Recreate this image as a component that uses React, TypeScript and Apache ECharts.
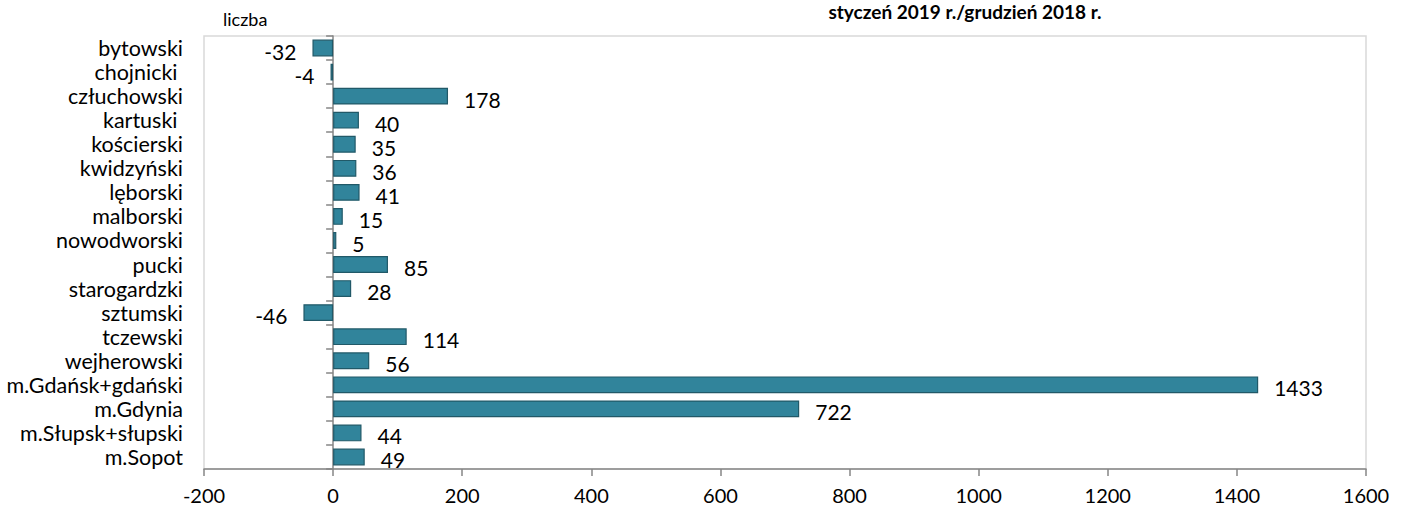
import React, { useEffect, useRef } from "react";
import * as echarts from "echarts";

const categories = [
  "bytowski",
  "chojnicki ",
  "człuchowski",
  "kartuski ",
  "kościerski",
  "kwidzyński",
  "lęborski",
  "malborski",
  "nowodworski",
  "pucki",
  "starogardzki",
  "sztumski",
  "tczewski",
  "wejherowski",
  "m.Gdańsk+gdański",
  "m.Gdynia",
  "m.Słupsk+słupski",
  "m.Sopot",
];
const values = [-32, -4, 178, 40, 35, 36, 41, 15, 5, 85, 28, -46, 114, 56, 1433, 722, 44, 49];
const xTicks = [-200, 0, 200, 400, 600, 800, 1000, 1200, 1400, 1600];
const title = "styczeń 2019 r./grudzień 2018 r.";
const unitLabel = "liczba";

const FONT = "Lato";

export default function App() {
  const ref = useRef<HTMLDivElement>(null);
  useEffect(() => {
    if (!ref.current) return;
    const chart = echarts.init(ref.current, undefined, { renderer: "svg" });
    chart.setOption({
      animation: false,
      backgroundColor: "#ffffff",
      textStyle: { fontFamily: FONT },
      title: {
        text: title,
        left: 960,
        top: -3,
        textAlign: "center",
        textStyle: { fontFamily: FONT, fontSize: 19, fontWeight: "bold", color: "#000" },
      },
      graphic: [
        {
          type: "text",
          left: 223,
          top: 10,
          style: { text: unitLabel, fontFamily: FONT, fontSize: 18, fill: "#000" },
        },
      ],
      grid: {
        left: 204,
        right: 40,
        top: 36,
        bottom: 41,
        show: true,
        borderColor: "#d9d9d9",
        borderWidth: 1.5,
        containLabel: false,
      },
      xAxis: {
        type: "value",
        min: xTicks[0],
        max: xTicks[xTicks.length - 1],
        interval: 200,
        splitLine: { show: false },
        axisLine: { show: true, onZero: false, lineStyle: { color: "#868686", width: 1.5 } },
        axisTick: { show: true, length: 7, lineStyle: { color: "#868686", width: 1.5 } },
        axisLabel: {
          fontFamily: FONT,
          fontSize: 20,
          color: "#000",
          margin: 16,
          formatter: (v: number) => String(v),
        },
      },
      yAxis: [
        {
          type: "category",
          inverse: true,
          data: categories,
          position: "left",
          axisLine: { show: false, onZero: false },
          axisTick: { show: false },
          axisLabel: {
            interval: 0,
            fontFamily: FONT,
            fontSize: 21.5,
            lineHeight: 22,
            color: "#000",
            margin: 21,
          },
        },
        {
          type: "category",
          inverse: true,
          data: categories,
          position: "left",
          axisLine: { show: true, onZero: true, lineStyle: { color: "#868686", width: 1.5 } },
          axisTick: {
            show: true,
            interval: 0,
            length: 7,
            lineStyle: { color: "#868686", width: 1.5 },
          },
          axisLabel: { show: false, interval: 0 },
        },
      ],
      series: [
        {
          type: "bar",
          yAxisIndex: 0,
          data: values.map((v) => ({
            value: v,
            label: { position: v < 0 ? "left" : "right" },
          })),
          barWidth: "70%",
          itemStyle: { color: "#31849b", borderColor: "#215968", borderWidth: 1.2 },
          label: {
            show: true,
            distance: 16,
            fontFamily: FONT,
            fontSize: 21,
            lineHeight: 20,
            color: "#000",
            offset: [0, 3],
            formatter: (p: any) => String(p.value),
          },
        },
      ],
    });
    return () => chart.dispose();
  }, []);
  return (
    <div
      ref={ref}
      style={{ position: "fixed", left: 0, top: 0, width: 1406, height: 510 }}
    />
  );
}
